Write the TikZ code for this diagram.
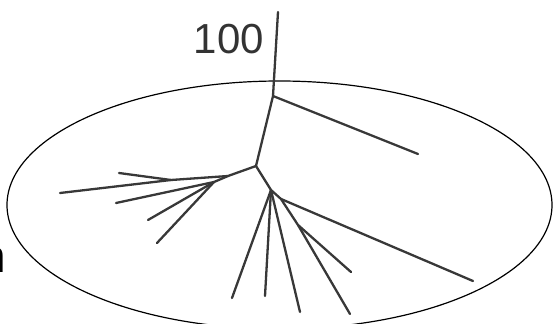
\documentclass[tikz,border=0pt]{standalone}
\usepackage{fontspec}
\setmainfont{Liberation Sans}

\begin{document}
\begin{tikzpicture}[x=1pt, y=-1pt,
  branch/.style={draw=black!78, line width=2.3pt, line cap=round}]
\useasboundingbox (0,0) rectangle (558,324);

% clade
\draw[line width=1.2pt] (279.5,205) ellipse [x radius=272.5, y radius=124];

% inner nodes
\coordinate (root) at (278,12);
\coordinate (A) at (273,96);
\coordinate (B) at (256,166);
\coordinate (L1) at (228,176);
\coordinate (L2) at (171,180);
\coordinate (L3) at (214,182);
\coordinate (C) at (271,190);
\coordinate (D) at (281,199);
\coordinate (E) at (298,225);

% leaves
\coordinate (a1) at (418,154);
\coordinate (l1) at (119,173);
\coordinate (l2) at (60,193);
\coordinate (l3) at (116,203);
\coordinate (l4) at (148,220);
\coordinate (l5) at (157,243);
\coordinate (c1) at (232,298);
\coordinate (c2) at (265,296);
\coordinate (c3) at (300,312);
\coordinate (d1) at (473,281);
\coordinate (e1) at (351,272);
\coordinate (e2) at (350,314);

\draw[branch] (root) -- (A) -- (B);
\draw[branch] (A) -- (a1);
\draw[branch] (B) -- (L1) -- (L2) -- (l2);
\draw[branch] (L2) -- (l1);
\draw[branch] (L1) -- (L3);
\draw[branch] (L3) -- (l3);
\draw[branch] (L3) -- (l4);
\draw[branch] (L3) -- (l5);
\draw[branch] (B) -- (C) -- (D) -- (d1);
\draw[branch] (C) -- (c1);
\draw[branch] (C) -- (c2);
\draw[branch] (C) -- (c3);
\draw[branch] (D) -- (E) -- (e1);
\draw[branch] (E) -- (e2);

% labels
\node[anchor=east, inner sep=0pt, text=black!80,
  font=\fontsize{42}{42}\selectfont] (boot) at (264,39) {100};
\node[anchor=base east, inner sep=0pt,
  font=\fontsize{46}{46}\selectfont] (cut) at (6,272) {n};
\end{tikzpicture}
\end{document}
